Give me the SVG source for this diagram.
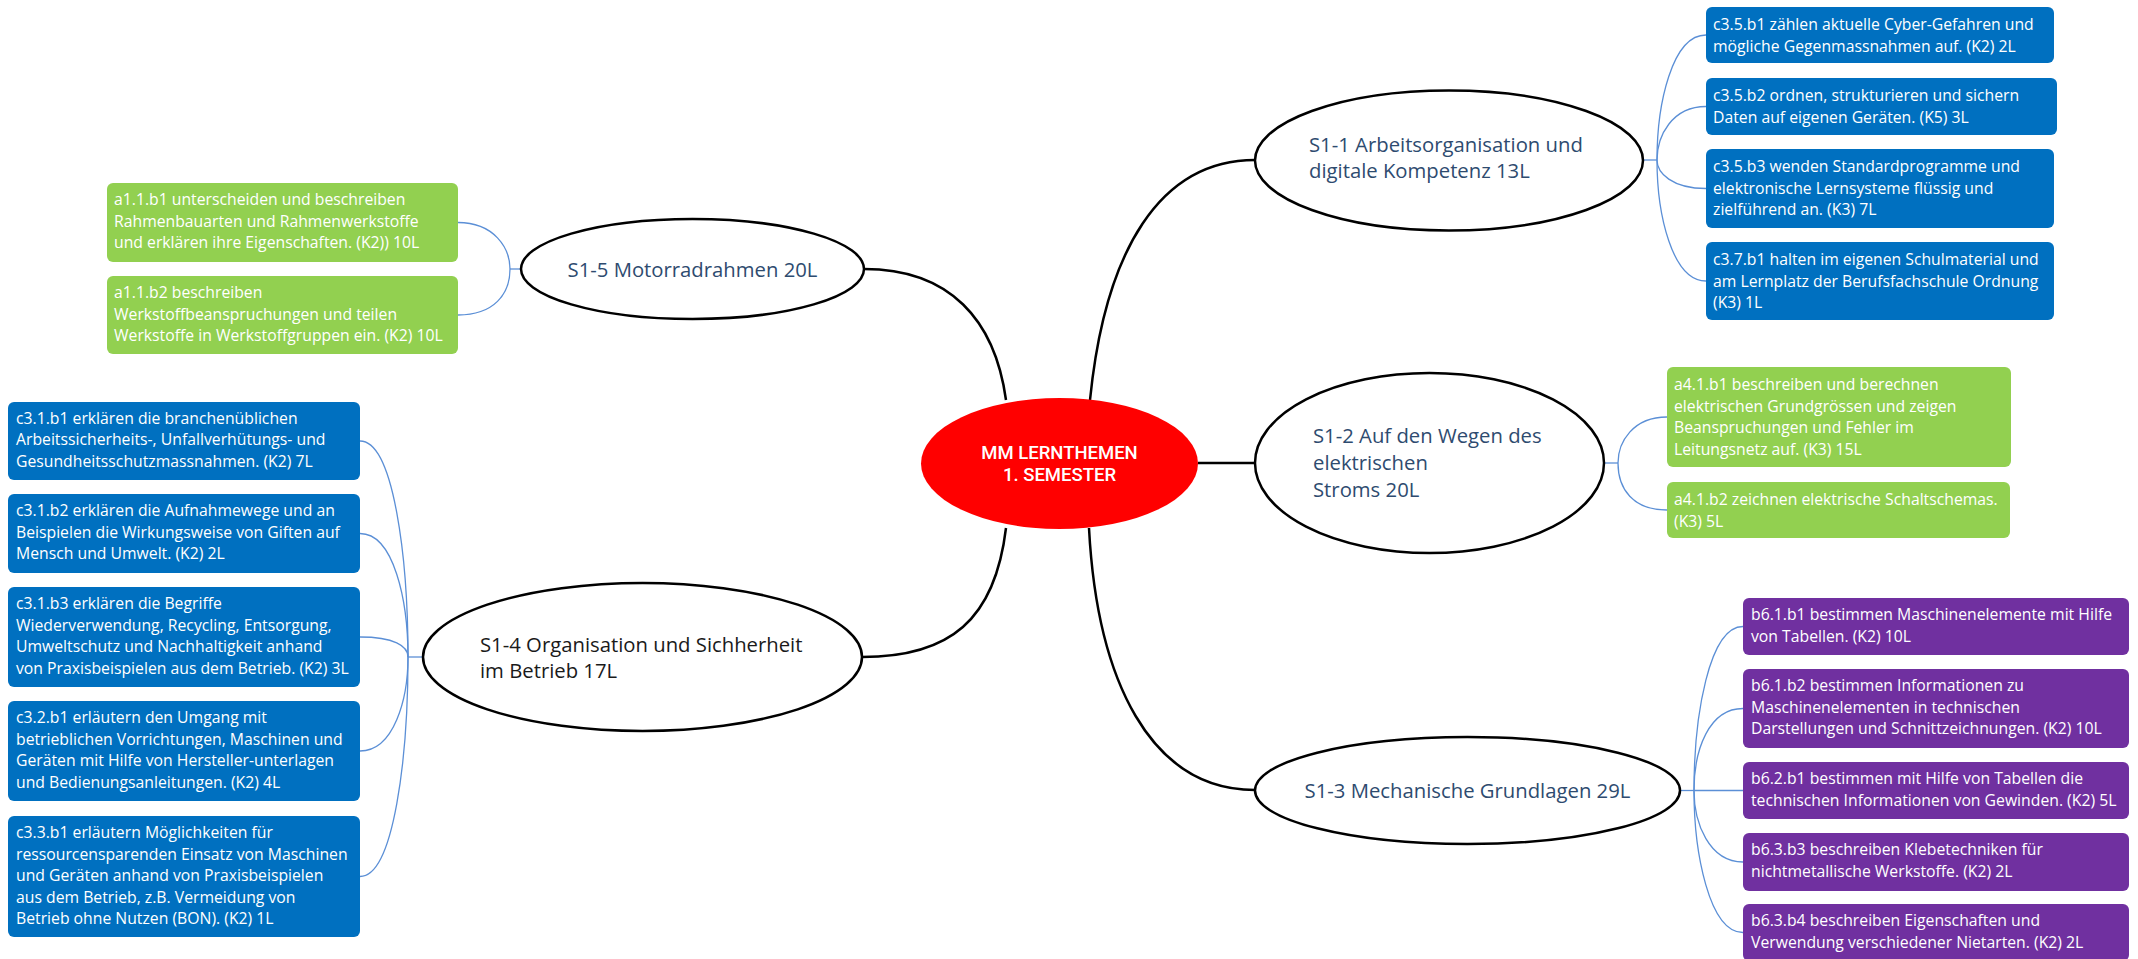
<svg xmlns="http://www.w3.org/2000/svg" width="2138" height="959" viewBox="0 0 2138 959">
<style>
.ell{fill:#fff;stroke:#000;stroke-width:2.5}
.root{fill:#ff0000}
.lbl{font-family:'Open Sans','Liberation Sans',sans-serif;font-size:20.3px;fill:#2e4b6f}
.dark{fill:#1a1a1a}
.rt{font-family:Roboto,'Liberation Sans',sans-serif;font-size:18.5px;font-weight:500;fill:#fff}
.bt{font-family:'Open Sans','Liberation Sans',sans-serif;font-size:15.75px;fill:#fff}
.blue{fill:#0070c0}
.green{fill:#92d050}
.purple{fill:#7030a0}
.main{stroke:#000;stroke-width:2.5;fill:none}
.sub{stroke:#5b8fd6;stroke-width:1.3;fill:none}
</style>
<rect width="2138" height="959" fill="#fff"/>
<g id="connectors">
<path class="main" d="M864,269 C950,269 995,320 1006,400"/>
<path class="main" d="M1255,160 C1160,160 1105,250 1090,400"/>
<path class="main" d="M1198,463 L1255,463"/>
<path class="main" d="M1089,528 C1097,680 1150,790 1255,790"/>
<path class="main" d="M1006,528 C995,620 950,657 862,657"/>
<path class="sub" d="M1643,160 L1657,160"/>
<path class="sub" d="M1706,35 C1672,35 1657,104 1657,160"/>
<path class="sub" d="M1706,106.5 C1672,106.5 1657,136 1657,160"/>
<path class="sub" d="M1706,188.5 C1672,188.5 1657,173 1657,160"/>
<path class="sub" d="M1706,281 C1672,281 1657,214 1657,160"/>
<path class="sub" d="M1604,463 L1618,463"/>
<path class="sub" d="M1667,417 C1633,417 1618,442 1618,463"/>
<path class="sub" d="M1667,510 C1633,510 1618,489 1618,463"/>
<path class="sub" d="M1680,790.5 L1694,790.5"/>
<path class="sub" d="M1743,626.5 C1709,626.5 1694,716 1694,790.5"/>
<path class="sub" d="M1743,708.5 C1709,708.5 1694,749.5 1694,790.5"/>
<path class="sub" d="M1743,790.5 L1694,790.5"/>
<path class="sub" d="M1743,862 C1709,862 1694,823 1694,790.5"/>
<path class="sub" d="M1743,932.5 C1709,932.5 1694,852 1694,790.5"/>
<path class="sub" d="M408,657 L423,657"/>
<path class="sub" d="M360,441 C394,441 408,560 408,657"/>
<path class="sub" d="M360,533.5 C394,533.5 408,601 408,657"/>
<path class="sub" d="M360,637 C394,637 408,646 408,657"/>
<path class="sub" d="M360,751 C394,751 408,699 408,657"/>
<path class="sub" d="M360,876.5 C394,876.5 408,756 408,657"/>
<path class="sub" d="M510,269 L521,269"/>
<path class="sub" d="M458,222.5 C494,222.5 510,248 510,269"/>
<path class="sub" d="M458,315 C494,315 510,294 510,269"/>
</g>
<g id="root">
<ellipse class="root" cx="1059.5" cy="463.5" rx="138.5" ry="65.5"/>
<text class="rt" text-anchor="middle"><tspan x="1059.5" y="459">MM LERNTHEMEN</tspan><tspan x="1059.5" y="481">1. SEMESTER</tspan></text>
</g>
<g id="s1-1">
<ellipse class="ell" cx="1449" cy="160.5" rx="194" ry="70"/>
<text class="lbl"><tspan x="1309" y="152">S1-1 Arbeitsorganisation und</tspan><tspan x="1309" y="178">digitale Kompetenz 13L</tspan></text>
</g>
<g id="s1-2">
<ellipse class="ell" cx="1429.5" cy="463" rx="174.5" ry="90"/>
<text class="lbl"><tspan x="1313" y="443">S1-2 Auf den Wegen des</tspan><tspan x="1313" y="470">elektrischen</tspan><tspan x="1313" y="497">Stroms 20L</tspan></text>
</g>
<g id="s1-3">
<ellipse class="ell" cx="1467.5" cy="790.5" rx="212.5" ry="53.5"/>
<text class="lbl" x="1467.5" y="798" text-anchor="middle">S1-3 Mechanische Grundlagen 29L</text>
</g>
<g id="s1-4">
<ellipse class="ell" cx="642.5" cy="657" rx="219.5" ry="74"/>
<text class="lbl dark"><tspan x="480" y="652">S1-4 Organisation und Sichherheit</tspan><tspan x="480" y="678">im Betrieb 17L</tspan></text>
</g>
<g id="s1-5">
<ellipse class="ell" cx="692.5" cy="269" rx="171.5" ry="50"/>
<text class="lbl" x="692.5" y="277" text-anchor="middle">S1-5 Motorradrahmen 20L</text>
</g>
<g id="c3-5-b1"><rect class="blue" x="1706" y="7" width="348" height="56" rx="6"/>
<text class="bt"><tspan x="1713" y="30">c3.5.b1 zählen aktuelle Cyber-Gefahren und</tspan><tspan x="1713" y="51.5">mögliche Gegenmassnahmen auf. (K2) 2L</tspan></text></g>
<g id="c3-5-b2"><rect class="blue" x="1706" y="78" width="351" height="57" rx="6"/>
<text class="bt"><tspan x="1713" y="101">c3.5.b2 ordnen, strukturieren und sichern</tspan><tspan x="1713" y="122.5">Daten auf eigenen Geräten. (K5) 3L</tspan></text></g>
<g id="c3-5-b3"><rect class="blue" x="1706" y="149" width="348" height="79" rx="6"/>
<text class="bt"><tspan x="1713" y="172">c3.5.b3 wenden Standardprogramme und</tspan><tspan x="1713" y="193.5">elektronische Lernsysteme flüssig und</tspan><tspan x="1713" y="215">zielführend an. (K3) 7L</tspan></text></g>
<g id="c3-7-b1"><rect class="blue" x="1706" y="242" width="348" height="78" rx="6"/>
<text class="bt"><tspan x="1713" y="265">c3.7.b1 halten im eigenen Schulmaterial und</tspan><tspan x="1713" y="286.5">am Lernplatz der Berufsfachschule Ordnung</tspan><tspan x="1713" y="308">(K3) 1L</tspan></text></g>
<g id="a4-1-b1"><rect class="green" x="1667" y="367" width="344" height="100" rx="6"/>
<text class="bt"><tspan x="1674" y="390">a4.1.b1 beschreiben und berechnen</tspan><tspan x="1674" y="411.5">elektrischen Grundgrössen und zeigen</tspan><tspan x="1674" y="433">Beanspruchungen und Fehler im</tspan><tspan x="1674" y="454.5">Leitungsnetz auf. (K3) 15L</tspan></text></g>
<g id="a4-1-b2"><rect class="green" x="1667" y="482" width="343" height="56" rx="6"/>
<text class="bt"><tspan x="1674" y="505">a4.1.b2 zeichnen elektrische Schaltschemas.</tspan><tspan x="1674" y="526.5">(K3) 5L</tspan></text></g>
<g id="b6-1-b1"><rect class="purple" x="1743" y="598" width="386" height="57" rx="6"/>
<text class="bt"><tspan x="1751" y="620">b6.1.b1 bestimmen Maschinenelemente mit Hilfe</tspan><tspan x="1751" y="641.5">von Tabellen. (K2) 10L</tspan></text></g>
<g id="b6-1-b2"><rect class="purple" x="1743" y="669" width="386" height="79" rx="6"/>
<text class="bt"><tspan x="1751" y="691">b6.1.b2 bestimmen Informationen zu</tspan><tspan x="1751" y="712.5">Maschinenelementen in technischen</tspan><tspan x="1751" y="734">Darstellungen und Schnittzeichnungen. (K2) 10L</tspan></text></g>
<g id="b6-2-b1"><rect class="purple" x="1743" y="762" width="386" height="57" rx="6"/>
<text class="bt"><tspan x="1751" y="784">b6.2.b1 bestimmen mit Hilfe von Tabellen die</tspan><tspan x="1751" y="805.5">technischen Informationen von Gewinden. (K2) 5L</tspan></text></g>
<g id="b6-3-b3"><rect class="purple" x="1743" y="833" width="386" height="58" rx="6"/>
<text class="bt"><tspan x="1751" y="855">b6.3.b3 beschreiben Klebetechniken für</tspan><tspan x="1751" y="876.5">nichtmetallische Werkstoffe. (K2) 2L</tspan></text></g>
<g id="b6-3-b4"><rect class="purple" x="1743" y="904" width="386" height="57" rx="6"/>
<text class="bt"><tspan x="1751" y="926">b6.3.b4 beschreiben Eigenschaften und</tspan><tspan x="1751" y="947.5">Verwendung verschiedener Nietarten. (K2) 2L</tspan></text></g>
<g id="c3-1-b1"><rect class="blue" x="8" y="402" width="352" height="78" rx="6"/>
<text class="bt"><tspan x="16" y="423.5">c3.1.b1 erklären die branchenüblichen</tspan><tspan x="16" y="445">Arbeitssicherheits-, Unfallverhütungs- und</tspan><tspan x="16" y="466.5">Gesundheitsschutzmassnahmen. (K2) 7L</tspan></text></g>
<g id="c3-1-b2"><rect class="blue" x="8" y="494" width="352" height="79" rx="6"/>
<text class="bt"><tspan x="16" y="516">c3.1.b2 erklären die Aufnahmewege und an</tspan><tspan x="16" y="537.5">Beispielen die Wirkungsweise von Giften auf</tspan><tspan x="16" y="559">Mensch und Umwelt. (K2) 2L</tspan></text></g>
<g id="c3-1-b3"><rect class="blue" x="8" y="587" width="352" height="100" rx="6"/>
<text class="bt"><tspan x="16" y="609">c3.1.b3 erklären die Begriffe</tspan><tspan x="16" y="630.5">Wiederverwendung, Recycling, Entsorgung,</tspan><tspan x="16" y="652">Umweltschutz und Nachhaltigkeit anhand</tspan><tspan x="16" y="673.5">von Praxisbeispielen aus dem Betrieb. (K2) 3L</tspan></text></g>
<g id="c3-2-b1"><rect class="blue" x="8" y="701" width="352" height="100" rx="6"/>
<text class="bt"><tspan x="16" y="723">c3.2.b1 erläutern den Umgang mit</tspan><tspan x="16" y="744.5">betrieblichen Vorrichtungen, Maschinen und</tspan><tspan x="16" y="766">Geräten mit Hilfe von Hersteller-unterlagen</tspan><tspan x="16" y="787.5">und Bedienungsanleitungen. (K2) 4L</tspan></text></g>
<g id="c3-3-b1"><rect class="blue" x="8" y="816" width="352" height="121" rx="6"/>
<text class="bt"><tspan x="16" y="838">c3.3.b1 erläutern Möglichkeiten für</tspan><tspan x="16" y="859.5">ressourcensparenden Einsatz von Maschinen</tspan><tspan x="16" y="881">und Geräten anhand von Praxisbeispielen</tspan><tspan x="16" y="902.5">aus dem Betrieb, z.B. Vermeidung von</tspan><tspan x="16" y="924">Betrieb ohne Nutzen (BON). (K2) 1L</tspan></text></g>
<g id="a1-1-b1"><rect class="green" x="107" y="183" width="351" height="79" rx="6"/>
<text class="bt"><tspan x="114" y="205">a1.1.b1 unterscheiden und beschreiben</tspan><tspan x="114" y="226.5">Rahmenbauarten und Rahmenwerkstoffe</tspan><tspan x="114" y="248">und erklären ihre Eigenschaften. (K2)) 10L</tspan></text></g>
<g id="a1-1-b2"><rect class="green" x="107" y="276" width="351" height="78" rx="6"/>
<text class="bt"><tspan x="114" y="298">a1.1.b2 beschreiben</tspan><tspan x="114" y="319.5">Werkstoffbeanspruchungen und teilen</tspan><tspan x="114" y="341">Werkstoffe in Werkstoffgruppen ein. (K2) 10L</tspan></text></g>
</svg>
